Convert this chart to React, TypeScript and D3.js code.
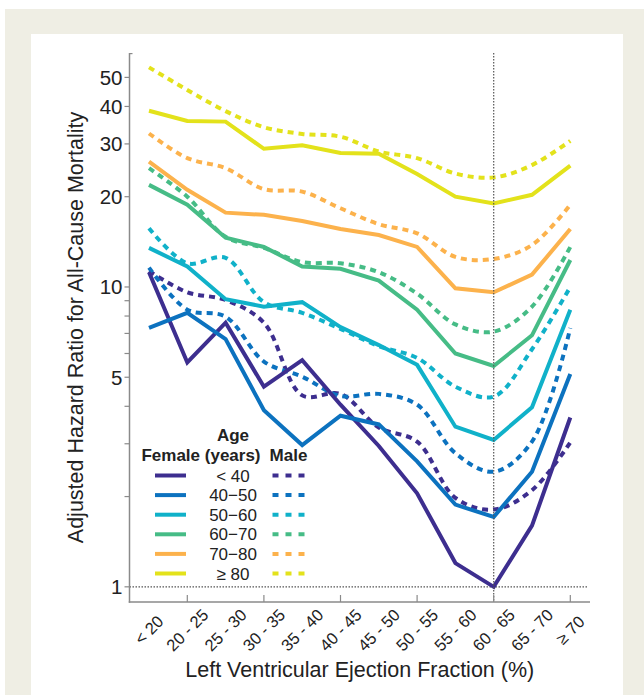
import React, { useEffect, useRef } from "react";
import * as d3 from "d3";

const categories = ["< 20", "20 - 25", "25 - 30", "30 - 35", "35 - 40", "40 - 45", "45 - 50", "50 - 55", "55 - 60", "60 - 65", "65 - 70", "≥ 70"];
const ageGroups = ["< 40", "40−50", "50−60", "60−70", "70−80", "≥ 80"];
const colors = ["#3d2e8f", "#0c72bf", "#10b1c9", "#46bc86", "#fcb24c", "#e3e21b"];

const female40 = [11.2, 5.6, 7.6, 4.65, 5.7, 4.05, 2.95, 2.05, 1.2, 1.0, 1.6, 3.67];
const male40 = [11.3, 9.6, 9.05, 7.6, 4.35, 4.4, 3.4, 3.05, 1.98, 1.81, 2.1, 3.03];
const female50 = [7.3, 8.2, 6.7, 3.88, 2.97, 3.72, 3.48, 2.62, 1.88, 1.71, 2.42, 5.13];
const male50 = [11.6, 8.4, 7.96, 5.64, 5.02, 4.33, 4.4, 4.05, 2.79, 2.42, 3.05, 7.3];
const female60 = [13.5, 11.7, 9.1, 8.6, 8.9, 7.35, 6.4, 5.5, 3.42, 3.09, 3.97, 8.4];
const male60 = [15.7, 12.0, 12.5, 8.9, 8.2, 7.25, 6.35, 5.8, 4.65, 4.31, 6.2, 10.0];
const female70 = [21.9, 18.8, 14.6, 13.6, 11.7, 11.5, 10.5, 8.4, 6.0, 5.45, 6.9, 12.3];
const male70 = [24.9, 20.0, 14.7, 13.5, 12.1, 12.0, 11.2, 9.5, 7.5, 7.1, 8.6, 13.6];
const female80 = [26.2, 21.1, 17.7, 17.4, 16.6, 15.6, 14.9, 13.6, 9.9, 9.6, 11.0, 15.6];
const male80 = [32.5, 26.9, 24.9, 21.2, 20.8, 18.3, 16.2, 15.1, 12.6, 12.4, 13.8, 18.8];
const femaleOld = [38.7, 35.8, 35.6, 28.9, 29.7, 28.0, 27.8, 23.8, 20.0, 19.0, 20.3, 25.4];
const maleOld = [54.0, 45.4, 38.6, 34.1, 32.4, 31.7, 28.3, 26.9, 23.9, 23.2, 25.5, 30.7];

const femaleSeries = [female40, female50, female60, female70, female80, femaleOld];
const maleSeries = [male40, male50, male60, male70, male80, maleOld];

const yTickLabels = [1, 5, 10, 20, 30, 40, 50];
const yMinorTicks = [2, 3, 4, 6, 7, 8, 9];
const xTickCats = ["20 - 25", "30 - 35", "40 - 45", "50 - 55", "60 - 65", "≥ 70"];
const refCategory = "60 - 65";

const font = "'Liberation Sans', Arial, Helvetica, sans-serif";

const Chart = () => {
  const ref = useRef<SVGSVGElement>(null);

  useEffect(() => {
    const svg = d3.select(ref.current);
    svg.selectAll("*").remove();

    // panel background
    svg.append("rect").attr("x", 5).attr("y", 9).attr("width", 639).attr("height", 686).attr("fill", "#efeee4");
    svg.append("rect").attr("x", 31).attr("y", 34).attr("width", 592).attr("height", 661).attr("fill", "#ffffff");

    const left = 129.5;
    const right = 590;
    const top = 53;
    const bottom = 602;

    const x = d3.scalePoint<string>().domain(categories).range([149, 570.3]);
    const y = d3.scaleLog().domain([0.89, 60.3]).range([bottom, top]);

    const g = svg.append("g");

    // dotted reference at hazard ratio 1
    g.append("line")
      .attr("x1", left).attr("x2", 587)
      .attr("y1", y(1)).attr("y2", y(1))
      .attr("stroke", "#555").attr("stroke-width", 1.2).attr("stroke-dasharray", "1.5,1.5");

    const solid = d3.line<number>()
      .x((d, i) => x(categories[i]) as number)
      .y(d => y(d));
    const dashed = d3.line<number>()
      .x((d, i) => x(categories[i]) as number)
      .y(d => y(d))
      .curve(d3.curveCatmullRom.alpha(0.5));

    maleSeries.forEach((s, k) => {
      g.append("path").attr("d", dashed(s)).attr("fill", "none")
        .attr("stroke", colors[k]).attr("stroke-width", 4)
        .attr("stroke-dasharray", "6,5");
    });
    femaleSeries.forEach((s, k) => {
      g.append("path").attr("d", solid(s)).attr("fill", "none")
        .attr("stroke", colors[k]).attr("stroke-width", 4)
        .attr("stroke-linejoin", "miter");
    });

    // vertical dotted line at reference category
    g.append("line")
      .attr("x1", x(refCategory)).attr("x2", x(refCategory))
      .attr("y1", top).attr("y2", bottom)
      .attr("stroke", "#555").attr("stroke-width", 1.2).attr("stroke-dasharray", "1.5,1.5");

    // axes
    const axisColor = "#8a8a8a";
    g.append("line").attr("x1", left).attr("x2", left).attr("y1", top).attr("y2", bottom + 0.75)
      .attr("stroke", axisColor).attr("stroke-width", 1.5);
    g.append("line").attr("x1", left).attr("x2", left + 3).attr("y1", top + 0.6).attr("y2", top + 0.6)
      .attr("stroke", axisColor).attr("stroke-width", 1.2);
    g.append("line").attr("x1", left - 0.75).attr("x2", right).attr("y1", bottom).attr("y2", bottom)
      .attr("stroke", axisColor).attr("stroke-width", 1.5);

    yTickLabels.concat(yMinorTicks).forEach(v => {
      g.append("line").attr("x1", left - 5).attr("x2", left).attr("y1", y(v)).attr("y2", y(v))
        .attr("stroke", axisColor).attr("stroke-width", 1.2);
    });
    yTickLabels.forEach(v => {
      g.append("text").attr("x", left - 7).attr("y", y(v)).attr("dy", "0.36em")
        .attr("text-anchor", "end").attr("font-family", font).attr("font-size", 20.5)
        .attr("fill", "#222").text(v);
    });

    xTickCats.forEach(c => {
      g.append("line").attr("x1", x(c)).attr("x2", x(c)).attr("y1", bottom - 7).attr("y2", bottom)
        .attr("stroke", axisColor).attr("stroke-width", 1.2);
    });
    categories.forEach(c => {
      g.append("text")
        .attr("transform", `translate(${x(c)},630) rotate(-45)`)
        .attr("text-anchor", "middle").attr("dy", "0.35em")
        .attr("font-family", font).attr("font-size", 16.5).attr("fill", "#222")
        .text(c);
    });

    g.append("text").attr("x", (left + right) / 2).attr("y", 677)
      .attr("text-anchor", "middle").attr("font-family", font).attr("font-size", 21.5)
      .attr("fill", "#222").text("Left Ventricular Ejection Fraction (%)");
    g.append("text").attr("transform", `translate(83,${(top + bottom) / 2}) rotate(-90)`)
      .attr("text-anchor", "middle").attr("font-family", font).attr("font-size", 21.5)
      .attr("fill", "#222").text("Adjusted Hazard Ratio for All-Cause Mortality");

    // legend
    const lg = g.append("g").attr("font-family", font).attr("fill", "#222");
    lg.append("text").attr("x", 233).attr("y", 441).attr("text-anchor", "middle")
      .attr("font-weight", "bold").attr("font-size", 17).text("Age");
    lg.append("text").attr("x", 201).attr("y", 460.5).attr("text-anchor", "middle")
      .attr("font-weight", "bold").attr("font-size", 17).text("Female (years)");
    lg.append("text").attr("x", 288.5).attr("y", 460.5).attr("text-anchor", "middle")
      .attr("font-weight", "bold").attr("font-size", 17).text("Male");
    ageGroups.forEach((a, k) => {
      const base = 481.5 + k * 19.6;
      lg.append("line").attr("x1", 155).attr("x2", 186).attr("y1", base - 6).attr("y2", base - 6)
        .attr("stroke", colors[k]).attr("stroke-width", 4);
      lg.append("line").attr("x1", 272.5).attr("x2", 304.5).attr("y1", base - 6).attr("y2", base - 6)
        .attr("stroke", colors[k]).attr("stroke-width", 4).attr("stroke-dasharray", "6,7");
      lg.append("text").attr("x", 233).attr("y", base).attr("text-anchor", "middle")
        .attr("font-size", 17).text(a);
    });
  }, []);

  return <svg ref={ref} width={644} height={695} style={{ position: "absolute", left: 0, top: 0 }} />;
};

export default function App() {
  return <Chart />;
}
